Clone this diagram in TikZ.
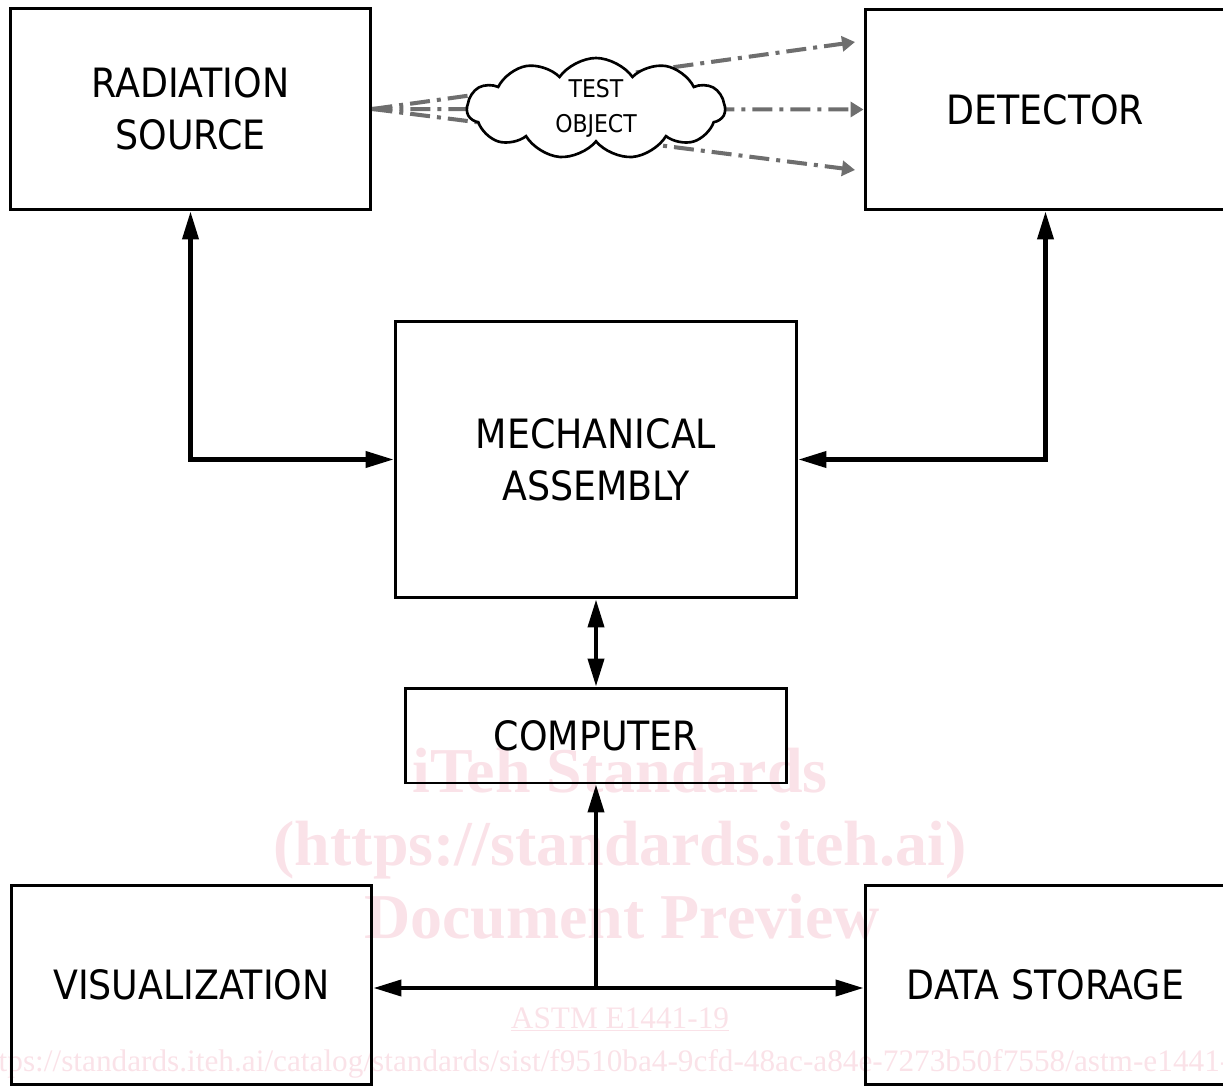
\documentclass[tikz,border=0pt]{standalone}
\usepackage{fontspec}
\usepackage{tikz}
\usetikzlibrary{arrows.meta,shapes,positioning,calc}
\newfontfamily\boxfont{DejaVu Sans Condensed}
\newfontfamily\stampfont{Liberation Serif}
\definecolor{raygrey}{RGB}{110,110,110}
\definecolor{stamppink}{RGB}{250,226,232}

\begin{document}
\begin{tikzpicture}[
    x=0.02cm, y=-0.02cm,
    head/.tip={Triangle[length=0.56cm,width=0.32cm]},
    ray head/.tip={Triangle[length=0.26cm,width=0.3cm]},
    block/.style={rectangle, draw, line width=1.7pt, align=center, inner sep=0pt, font=\boxfont\fontsize{23}{29.6}\selectfont},
    object/.style={cloud, cloud puffs=11, cloud puff arc=110, cloud ignores aspect, draw, fill=white, line width=1.5pt, minimum width=5.16cm, minimum height=2.02cm, align=center, inner sep=0pt, font=\boxfont\fontsize{13.9}{19.7}\selectfont},
    link/.style={line width=2.3pt},
    ray/.style={raygrey, line width=2.3pt, dash pattern=on 0.4cm off 0.14cm on 0.08cm off 0.14cm, -ray head},
    stamp/.style={stamppink, anchor=base, inner sep=0pt}
]
    \useasboundingbox (0,0) rectangle (1223,1087);
    \clip (0,0) rectangle (1223,1087);

    % Watermark behind everything
    \node[stamp, font=\stampfont\bfseries\fontsize{36.4}{36}\selectfont] (wmtitle) at (620,792) {iTeh Standards};
    \node[stamp, font=\stampfont\bfseries\fontsize{36.4}{36}\selectfont] (wmsite) at (620,865) {(https://standards.iteh.ai)};
    \node[stamp, font=\stampfont\bfseries\fontsize{36.4}{36}\selectfont] (wmpreview) at (622,938) {Document Preview};
    \node[stamp, font=\stampfont\fontsize{17.8}{17}\selectfont] (wmcode) at (620,1028) {\underline{ASTM E1441-19}};
    \node[stamp, anchor=base west, font=\stampfont\fontsize{17.8}{17}\selectfont] (wmlink) at (-26,1071) {https://standards.iteh.ai/catalog/standards/sist/f9510ba4-9cfd-48ac-a84e-7273b50f7558/astm-e1441-19};

    % Blocks
    \node[block, minimum width=7.22cm, minimum height=4.04cm] (source) at (190.5,109) {RADIATION\\SOURCE};
    \node[block, minimum width=7.22cm, minimum height=4.02cm] (detector) at (1045.5,109.5) {DETECTOR};
    \node[block, minimum width=8.04cm, minimum height=5.54cm] (mech) at (596,459.5) {MECHANICAL\\ASSEMBLY};
    \node[block, minimum width=7.64cm, minimum height=1.9cm] (computer) at (596,735.5) {COMPUTER};
    \node[block, minimum width=7.22cm, minimum height=4cm] (display) at (191.5,985) {VISUALIZATION};
    \node[block, minimum width=7.22cm, minimum height=4cm] (storage) at (1045.5,985) {DATA STORAGE};

    % Rays through the test object
    \coordinate (rayhi) at (855,42);
    \coordinate (raylo) at (855,170);
    \draw[ray] (source.east) -- (rayhi);
    \draw[ray] (source.east) -- (detector.west);
    \draw[ray] (source.east) -- (raylo);
    \node[object] (object) at (596,108.5) {TEST\\OBJECT};

    % Links
    \draw[link, head-head] (source.south) |- (mech.west);
    \draw[link, head-head] (detector.south) |- (mech.east);
    \draw[link, head-head] (mech.south) -- (computer.north);
    \coordinate (tee) at (596,988);
    \draw[link, head-head] (display.east |- tee) -- (storage.west |- tee);
    \draw[link, -head] (tee) -- (computer.south);
\end{tikzpicture}
\end{document}
